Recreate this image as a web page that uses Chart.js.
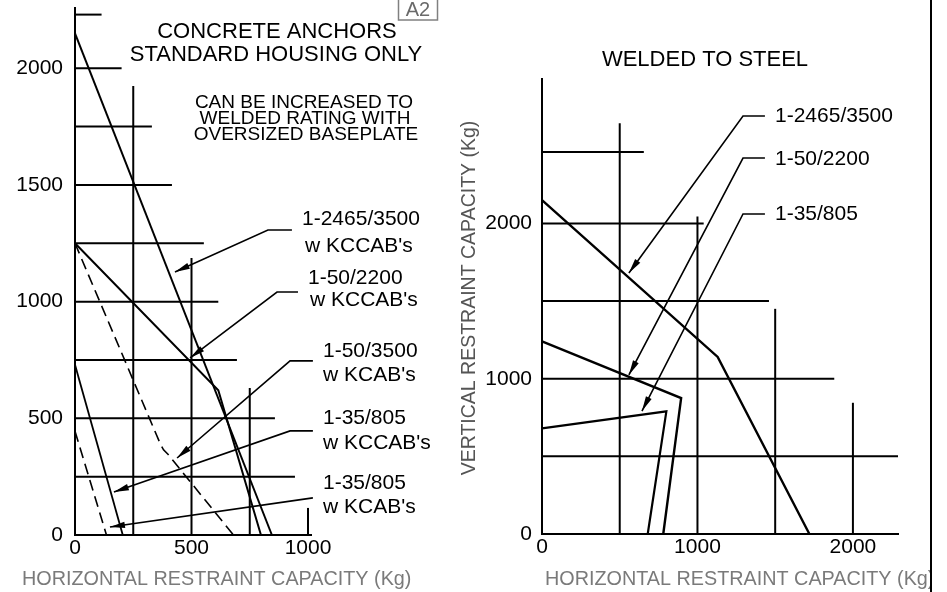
<!DOCTYPE html>
<html>
<head>
<meta charset="utf-8">
<title>Restraint capacity</title>
<script src="https://cdn.jsdelivr.net/npm/chart.js@4.4.0/dist/chart.umd.min.js"></script>
<style>
  html, body { margin: 0; padding: 0; background: #fff; }
  #wrap { position: relative; width: 947px; height: 592px; overflow: hidden; background: #fff; }
  #wrap canvas { position: absolute; left: 0; top: 0; }
</style>
</head>
<body>
<div id="wrap">
  <canvas id="leftChart" width="947" height="592"></canvas>
  <canvas id="rightChart" width="947" height="592"></canvas>
</div>
<script>
// ----------------------
// Data (kg) - left: concrete anchors, right: welded to steel
// ----------------------
const leftXTicks = [0, 500, 1000];
const leftYTicks = [0, 500, 1000, 1500, 2000];
const rightXTicks = [0, 1000, 2000];
const rightYTicks = [0, 1000, 2000];

// stepped grid: [level, where the line stops]
const leftGridH = [[2230, 114], [2000, 200], [1750, 330], [1500, 416], [1250, 553],
                   [1000, 615], [750, 695], [500, 858], [250, 944]];
const leftGridV = [[250, 1924], [500, 1187], [750, 630], [1000, 116]];
const rightGridH = [[2460, 655], [2000, 1040], [1500, 1460], [1000, 1880], [500, 2290]];
const rightGridV = [[500, 2645], [1000, 2045], [1500, 1450], [2000, 845]];

// capacity curves [horizontal, vertical]
const kccab2465 = [[0, 2150], [845, 0]];
const kccab2200 = [[0, 1250], [615, 620], [798, 0]];
const kcab3500 = [[0, 1250], [365, 393], [380, 365], [400, 345], [680, 0]];
const kccab805 = [[0, 730], [205, 0]];
const kcab805 = [[0, 445], [135, 0]];

const weld2465 = [[0, 2150], [1130, 1140], [1720, 0]];
const weld2200 = [[0, 1240], [895, 875], [780, 0]];
const weld805 = [[0, 680], [800, 790], [680, 0]];

// leaders: arrow tip first
const leadL2465 = [[429, 1127], [828, 1307], [931, 1307]];
const leadL2200 = [[494, 759], [867, 1041], [957, 1041]];
const leadL3500 = [[438, 330], [923, 746], [1021, 746]];
const leadL805cc = [[167, 184], [923, 446], [1021, 446]];
const leadL805c = [[150, 34], [1021, 159]];
const leadR2465 = [[559, 1681], [1293, 2692], [1434, 2692]];
const leadR2200 = [[559, 1024], [1293, 2421], [1434, 2421]];
const leadR805 = [[643, 792], [1293, 2061], [1434, 2061]];

const FONT = '"Liberation Sans", Arial, sans-serif';

// ----------------------
// Helpers
// ----------------------
const pts = arr => arr.map(([x, y]) => ({ x, y }));

function line(arr, width, dash) {
  return { data: pts(arr), showLine: true, borderColor: '#000', borderWidth: width,
           borderDash: dash || [], pointRadius: 0, clip: false, tension: 0 };
}
function hLines(arr, width) {
  return arr.map(([y, xEnd]) => line([[0, y], [xEnd, y]], width));
}
function vLines(arr, width) {
  return arr.map(([x, yTop]) => line([[x, 0], [x, yTop]], width));
}
function leader(arr) {
  const ds = line(arr, 1.6);
  ds.arrow = true;
  return ds;
}

function text(ctx, s, x, y, size, color, align) {
  ctx.font = size + 'px ' + FONT;
  ctx.fillStyle = color || '#000';
  ctx.textAlign = align || 'left';
  ctx.textBaseline = 'middle';
  ctx.fillText(s, x, y);
}

const arrowPlugin = {
  id: 'arrows',
  afterDatasetsDraw(chart) {
    const ctx = chart.ctx;
    chart.data.datasets.forEach((ds, i) => {
      if (!ds.arrow) return;
      const m = chart.getDatasetMeta(i);
      const a = m.data[0], b = m.data[1];
      const ang = Math.atan2(a.y - b.y, a.x - b.x);
      const L = 15, W = 3.2;
      const c = Math.cos(ang), s = Math.sin(ang);
      ctx.save();
      ctx.fillStyle = '#000';
      ctx.beginPath();
      ctx.moveTo(a.x, a.y);
      ctx.lineTo(a.x - L * c + W * s, a.y - L * s - W * c);
      ctx.lineTo(a.x - L * c - W * s, a.y - L * s + W * c);
      ctx.closePath();
      ctx.fill();
      ctx.restore();
    });
  }
};

function axes(xMax, yMax, xTicks, yTicks, yWidth, xHeight, yPad) {
  const tickFont = { family: FONT, size: 21, lineHeight: 1.2 };
  return {
    x: {
      type: 'linear', min: 0, max: xMax,
      grid: { display: false, drawTicks: false },
      border: { display: true, color: '#000', width: 2 },
      ticks: { color: '#000', font: tickFont, padding: 1, maxRotation: 0, autoSkip: false,
               callback: v => String(v) },
      afterBuildTicks: s => { s.ticks = xTicks.map(v => ({ value: v })); },
      afterFit: s => { s.height = xHeight; s.paddingLeft = 0; s.paddingRight = 0; }
    },
    y: {
      type: 'linear', min: 0, max: yMax,
      grid: { display: false, drawTicks: false },
      border: { display: true, color: '#000', width: 2 },
      ticks: { color: '#000', font: tickFont, padding: yPad, autoSkip: false,
               callback: v => String(v) },
      afterBuildTicks: s => { s.ticks = yTicks.map(v => ({ value: v })); },
      afterFit: s => { s.width = yWidth; s.paddingTop = 0; s.paddingBottom = 0; }
    }
  };
}

// ----------------------
// Left chart: concrete anchors
// ----------------------
const leftText = {
  id: 'leftText',
  afterDraw(chart) {
    const ctx = chart.ctx;
    ctx.save();
    text(ctx, 'CONCRETE ANCHORS', 277, 32, 22, '#000', 'center');
    text(ctx, 'STANDARD HOUSING ONLY', 276, 55, 22, '#000', 'center');
    text(ctx, 'CAN BE INCREASED TO', 304, 103, 19, '#000', 'center');
    text(ctx, 'WELDED RATING WITH', 305, 119, 19, '#000', 'center');
    text(ctx, 'OVERSIZED BASEPLATE', 306, 135, 19, '#000', 'center');

    text(ctx, '1-2465/3500', 302, 219, 21);
    text(ctx, "w KCCAB's", 305, 246, 21);
    text(ctx, '1-50/2200', 308, 278, 21);
    text(ctx, "w KCCAB's", 310, 300, 21);
    text(ctx, '1-50/3500', 323, 351, 21);
    text(ctx, "w KCAB's", 323, 375, 21);
    text(ctx, '1-35/805', 323, 418, 21);
    text(ctx, "w KCCAB's", 323, 443, 21);
    text(ctx, '1-35/805', 323, 483, 21);
    text(ctx, "w KCAB's", 323, 507, 21);

    text(ctx, 'HORIZONTAL RESTRAINT CAPACITY (Kg)', 22, 580, 19.8, '#7a7a7a');

    // sheet tag
    ctx.strokeStyle = '#808080';
    ctx.lineWidth = 1.5;
    ctx.strokeRect(398.5, -1, 39, 21);
    text(ctx, 'A2', 418, 10, 20, '#6a6a6a', 'center');
    ctx.restore();
  }
};

new Chart(document.getElementById('leftChart'), {
  type: 'scatter',
  data: {
    datasets: [
      line(kccab2465, 2),
      line(kccab2200, 2),
      line(kcab3500, 1.6, [11, 6]),
      line(kccab805, 1.8),
      line(kcab805, 1.6, [11, 6]),
      leader(leadL2465), leader(leadL2200), leader(leadL3500),
      leader(leadL805cc), leader(leadL805c),
      ...hLines(leftGridH, 2),
      ...vLines(leftGridV, 2)
    ]
  },
  options: {
    responsive: false, animation: false, events: [],
    layout: { padding: { left: 0, right: 635.5, top: 7.6, bottom: 20 } },
    plugins: { legend: { display: false }, tooltip: { enabled: false } },
    scales: axes(1015, 2260, leftXTicks, leftYTicks, 75, 37, 12)
  },
  plugins: [arrowPlugin, leftText]
});

// ----------------------
// Right chart: welded to steel
// ----------------------
const rightText = {
  id: 'rightText',
  afterDraw(chart) {
    const ctx = chart.ctx;
    ctx.save();
    text(ctx, 'WELDED TO STEEL', 705, 60, 22, '#000', 'center');
    text(ctx, '1-2465/3500', 775, 116, 21);
    text(ctx, '1-50/2200', 775, 159, 21);
    text(ctx, '1-35/805', 775, 214, 21);

    // axis titles
    ctx.save();
    ctx.translate(470, 298);
    ctx.rotate(-Math.PI / 2);
    text(ctx, 'VERTICAL RESTRAINT CAPACITY (Kg)', 0, 0, 19.5, '#555', 'center');
    ctx.restore();

    ctx.save();
    ctx.beginPath();
    ctx.rect(0, 0, 930, 592);
    ctx.clip();
    text(ctx, 'HORIZONTAL RESTRAINT CAPACITY (Kg)', 545, 580, 19.8, '#7a7a7a');
    ctx.restore();

    // frame edge
    ctx.strokeStyle = '#000';
    ctx.lineWidth = 2;
    ctx.beginPath();
    ctx.moveTo(931, 0);
    ctx.lineTo(931, 592);
    ctx.stroke();
    ctx.restore();
  }
};

new Chart(document.getElementById('rightChart'), {
  type: 'scatter',
  data: {
    datasets: [
      line(weld2465, 2.4),
      line(weld2200, 2.4),
      line(weld805, 2.2),
      leader(leadR2465), leader(leadR2200), leader(leadR805),
      ...hLines(rightGridH, 2),
      ...vLines(rightGridV, 2)
    ]
  },
  options: {
    responsive: false, animation: false, events: [],
    layout: { padding: { left: 460, right: 49, top: 79, bottom: 20 } },
    plugins: { legend: { display: false }, tooltip: { enabled: false } },
    scales: axes(2290, 2930, rightXTicks, rightYTicks, 82, 38, 10)
  },
  plugins: [arrowPlugin, rightText]
});
</script>
</body>
</html>
